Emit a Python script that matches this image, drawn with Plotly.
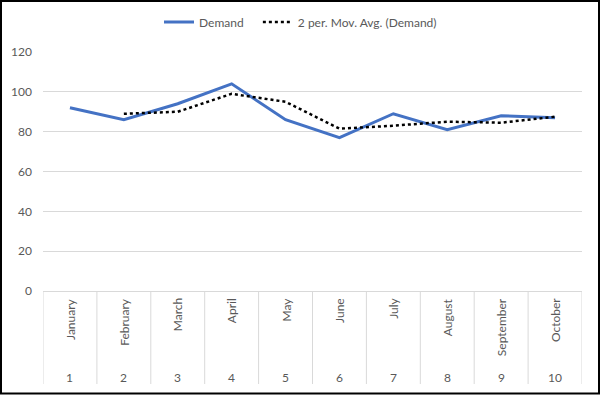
import plotly.graph_objects as go

months = ["January", "February", "March", "April", "May", "June",
          "July", "August", "September", "October"]
periods = ["1", "2", "3", "4", "5", "6", "7", "8", "9", "10"]
demand = [92, 86, 94, 104, 86, 77, 89, 81, 88, 87]
mov_avg = [None, 89, 90, 99, 95, 81.5, 83, 85, 84.5, 87.5]
y_ticks = [0, 20, 40, 60, 80, 100, 120]
series_names = ["Demand", "2 per. Mov. Avg. (Demand)"]

W, H = 601, 395
L, R, T, B = 43, 582, 52, 291
pw, ph = R - L, B - T

def px_x(p):
    return (p - L) / pw

def px_y(p):
    return (B - p) / ph

FONT = "Lato"
GRAY = "#595959"
PAD = "\u00a0" * 3

fig = go.Figure()
xs = list(range(len(months)))
fig.add_trace(go.Scatter(x=xs, y=demand, mode="lines", name=series_names[0] + PAD,
                         line=dict(color="#4472C4", width=3)))
fig.add_trace(go.Scatter(x=xs, y=mov_avg, mode="lines",
                         name=series_names[1],
                         line=dict(color="black", width=2.5, dash="dot")))

shapes = []
# category separators
for i in range(len(months) + 1):
    shapes.append(dict(type="line", xref="x", yref="paper",
                       x0=i - 0.5, x1=i - 0.5, y0=0, y1=px_y(384),
                       line=dict(color="#d9d9d9", width=1)))
# outer border
shapes.append(dict(type="rect", xref="paper", yref="paper",
                   x0=px_x(1), x1=px_x(599), y0=px_y(1), y1=px_y(393.5),
                   line=dict(color="black", width=2)))

annotations = []
for i, m in enumerate(months):
    annotations.append(dict(x=i, y=0, xref="x", yref="paper", text=m,
                            textangle=-90, showarrow=False,
                            xanchor="center", yanchor="top", yshift=-5,
                            font=dict(family=FONT, size=12, color=GRAY)))
for i, p in enumerate(periods):
    annotations.append(dict(x=i, y=px_y(377), xref="x", yref="paper", text=p,
                            showarrow=False, xanchor="center", yanchor="middle",
                            font=dict(family=FONT, size=12, color=GRAY)))

fig.update_layout(
    width=W, height=H,
    margin=dict(l=L, r=W - R, t=T, b=H - B, pad=0, autoexpand=False),
    paper_bgcolor="white", plot_bgcolor="white",
    font=dict(family=FONT, size=12, color=GRAY),
    showlegend=True,
    legend=dict(orientation="h", x=px_x(159), xanchor="left", y=px_y(22),
                yanchor="middle", font=dict(family=FONT, size=12, color=GRAY),
                itemwidth=30, bgcolor="rgba(0,0,0,0)"),
    xaxis=dict(range=[-0.5, len(months) - 0.5], showticklabels=False,
               showgrid=False, zeroline=False, showline=True,
               linecolor="#d9d9d9", linewidth=1, ticks=""),
    yaxis=dict(range=[0, 120], tickvals=y_ticks, showgrid=True,
               gridcolor="#d9d9d9", gridwidth=1, zeroline=False,
               showline=False, ticks="", ticklen=0,
               tickfont=dict(family=FONT, size=12, color=GRAY)),
    shapes=shapes, annotations=annotations,
)
fig.update_yaxes(ticklabelstandoff=10)
fig.write_html("out.html", config={"displayModeBar": False},
               post_script="document.body.style.margin='0';document.body.style.overflow='hidden';")
